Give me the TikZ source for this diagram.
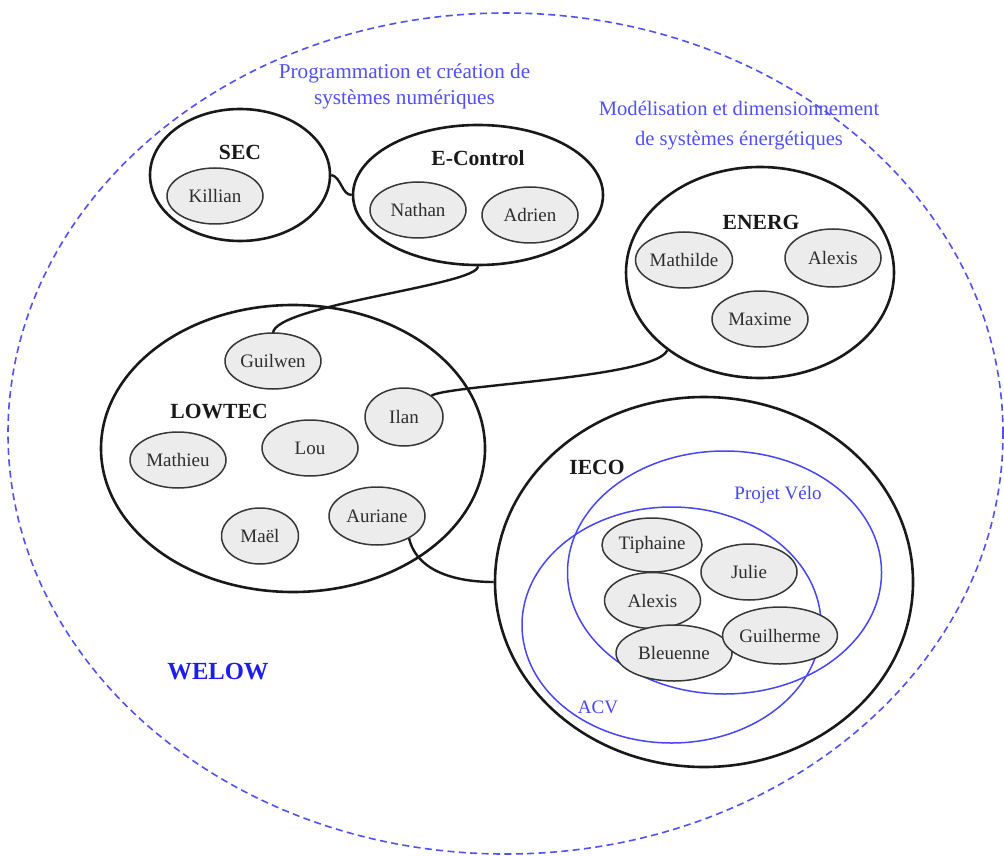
\documentclass[tikz,border=0pt]{standalone}
\usepackage{fontspec}
\setmainfont{Liberation Serif}
\usetikzlibrary{shapes.geometric}
\definecolor{themeblue}{RGB}{80,80,250}
\definecolor{projblue}{RGB}{70,70,245}
\definecolor{welowblue}{RGB}{30,30,235}
\definecolor{dashblue}{RGB}{80,80,250}
\definecolor{memberfill}{RGB}{236,236,236}
\definecolor{memberline}{RGB}{55,55,55}
\definecolor{membertext}{RGB}{45,45,45}
\begin{document}
\begin{tikzpicture}[x=0.5pt,y=-0.5pt,
  group/.style={ellipse, draw=black!90, line width=1.3pt, inner sep=0pt},
  project/.style={ellipse, draw=projblue, line width=0.75pt, inner sep=0pt},
  member/.style={ellipse, draw=memberline, fill=memberfill, line width=0.75pt,
    inner sep=0pt, minimum width=48pt, minimum height=28pt,
    text=membertext, font=\fontsize{9.5}{11}\selectfont},
  grouplabel/.style={text=black!90, font=\fontsize{10.8}{12}\selectfont\bfseries},
  projlabel/.style={text=projblue, font=\fontsize{9.5}{11}\selectfont},
  theme/.style={text=themeblue, align=center},
  link/.style={draw=black!90, line width=1.2pt}
]
\useasboundingbox (0,0) rectangle (1004,855);

% laboratory boundary
\node[ellipse, draw=dashblue, dash pattern=on 3.5pt off 2.2pt, line width=0.8pt,
  inner sep=0pt, minimum width=497.5pt, minimum height=420.5pt] (welow) at (505.5,433.5) {};
\node[text=welowblue, font=\fontsize{12.3}{14}\selectfont\bfseries] (welowlabel) at (218,672) {WELOW};

% research themes
\node[theme, font=\fontsize{10.6}{13}\selectfont] (themeA) at (404.5,86) {Programmation et création de\\systèmes numériques};
\node[theme, font=\fontsize{10.3}{15}\selectfont] (themeB) at (739,126) {Modélisation et dimensionnement\\de systèmes énergétiques};

% teams
\node[group, minimum width=90pt, minimum height=66pt] (sec) at (240,175) {};
\node[group, minimum width=125pt, minimum height=70pt] (ectrl) at (478,195) {};
\node[group, minimum width=134pt, minimum height=105.5pt] (energ) at (760,272.5) {};
\node[group, minimum width=192pt, minimum height=143.5pt] (lowtec) at (293,448.5) {};
\node[group, minimum width=209pt, minimum height=185pt] (ieco) at (704,582) {};

\node[grouplabel] (seclabel) at (240,152) {SEC};
\node[grouplabel] (ectrllabel) at (478,158) {E-Control};
\node[grouplabel] (energlabel) at (761,222) {ENERG};
\node[grouplabel] (lowteclabel) at (219,412) {LOWTEC};
\node[grouplabel] (iecolabel) at (597,467) {IECO};

% projects inside IECO
\node[project, minimum width=157pt, minimum height=121.5pt] (velo) at (724.5,572.5) {};
\node[project, minimum width=149.5pt, minimum height=118pt] (acv) at (671.5,625) {};
\node[projlabel] (velolabel) at (778,495) {Projet Vélo};
\node[projlabel] (acvlabel) at (598,707) {ACV};

% links between teams
\draw[link] (sec.east) .. controls +(10,2) and +(-10,0) .. (ectrl.west);
\draw[link] (ectrl.south) .. controls +(0,19) and +(2,-28) .. (273,333) coordinate (guilwentop);
\draw[link] (energ.220) .. controls +(-12,28) and +(13,-11) .. (431,396) coordinate (ilanedge);
\draw[link] (409,538) coordinate (aurianeedge) .. controls +(8,35) and +(-35,0) .. (ieco.west);

% members
\node[member] (killian) at (215,196) {Killian};
\node[member] (nathan) at (418,210) {Nathan};
\node[member] (adrien) at (530,215) {Adrien};

\node[member] (mathilde) at (684,260) {Mathilde};
\node[member, minimum height=29pt] (alexisE) at (833,258) {Alexis};
\node[member] (maxime) at (760,319) {Maxime};

\node[member] (guilwen) at (273,361) {Guilwen};
\node[member, minimum width=39pt, minimum height=29pt] (ilan) at (404,417) {Ilan};
\node[member] (lou) at (310,448) {Lou};
\node[member] (mathieu) at (178,460) {Mathieu};
\node[member, minimum width=38.5pt] (mael) at (260,536) {Maël};
\node[member, minimum height=29pt] (auriane) at (377,516) {Auriane};

\node[member, minimum width=50pt, minimum height=27pt] (tiphaine) at (652,545) {Tiphaine};
\node[member] (julie) at (749,572) {Julie};
\node[member] (alexisI) at (652.5,600.5) {Alexis};
\node[member, minimum width=58pt] (bleuenne) at (674,653) {Bleuenne};
\node[member, minimum width=57pt, minimum height=28.5pt] (guilherme) at (780,635.5) {Guilherme};
\end{tikzpicture}
\end{document}
